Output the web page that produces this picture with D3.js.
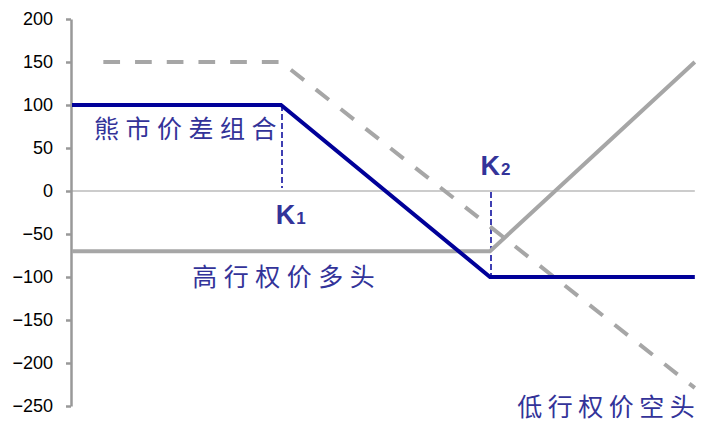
<!DOCTYPE html>
<html>
	<head>
		<meta charset="utf-8">
		<style>
			body, html { margin: 0; padding: 0; background: #fff; }
		</style>
	</head>
	<body>
		<svg id="svg" width="703" height="424"></svg>

		<script src="https://d3js.org/d3.v7.min.js"></script>
		<script>
			// Payoff data (price on x, profit on y)
			const yTicks = [200, 150, 100, 50, 0, -50, -100, -150, -200, -250]
			const strikes = [{ name: 'K', sub: '1', price: 20 }, { name: 'K', sub: '2', price: 40 }]

			const bearPrices = [0, 20, 40, 59.6]
			const bearValues = [100, 100, -100, -100]

			const longHighPrices = [0, 40, 59.6]
			const longHighValues = [-70, -70, 150]

			const shortLowPrices = [3, 20, 59.6]
			const shortLowValues = [150, 150, -229]

			const labels = ['熊市价差组合', '高行权价多头', '低行权价空头']
			const labelPrices = [2.1, 11.5, 42.6]
			const labelValues = [72, -100, -252]

			const svg = d3.select('#svg')

			const x = d3.scaleLinear().domain([0, 60]).range([72, 699])
			const y = d3.scaleLinear().domain([-250, 200]).range([406, 19])

			const line = d3.line()
				.x(d => x(d[0]))
				.y(d => y(d[1]))

			const zip = (a, b) => a.map((v, i) => [v, b[i]])

			// zero line
			svg.append('line')
				.attr('x1', x(0)).attr('x2', x(59.6))
				.attr('y1', y(0)).attr('y2', y(0))
				.attr('stroke', '#999').attr('stroke-width', 1.2)

			// y axis
			const axis = svg.append('g')
				.attr('transform', `translate(${x(0) - 1},0)`)
				.call(d3.axisLeft(y).tickValues(yTicks).tickSize(5).tickPadding(13).tickSizeOuter(0))
			axis.select('.domain').attr('stroke', '#999').attr('stroke-width', 2.5)
			axis.selectAll('.tick line').attr('stroke', '#999').attr('stroke-width', 2.5)
			axis.selectAll('.tick text')
				.attr('font-family', 'Liberation Sans, Arial, sans-serif')
				.attr('font-size', 18)
				.attr('fill', '#000')

			// strike markers
			svg.selectAll('.strike')
				.data(strikes)
				.join('line')
				.attr('x1', d => x(d.price) + 1).attr('x2', d => x(d.price) + 1)
				.attr('y1', (d, i) => i === 0 ? y(100) : y(0) + 1)
				.attr('y2', (d, i) => i === 0 ? y(0) - 3 : y(-100))
				.attr('stroke', '#000099').attr('stroke-width', 1.5)
				.attr('stroke-dasharray', '6,3')

			// short low strike (dashed gray)
			svg.append('path')
				.attr('d', line(zip(shortLowPrices, shortLowValues)))
				.attr('fill', 'none')
				.attr('stroke', '#a6a6a6').attr('stroke-width', 4)
				.attr('stroke-dasharray', '16.7,15')

			// long high strike (solid gray)
			svg.append('path')
				.attr('d', line(zip(longHighPrices, longHighValues)))
				.attr('fill', 'none')
				.attr('stroke', '#a6a6a6').attr('stroke-width', 4)

			// bear spread (navy)
			svg.append('path')
				.attr('d', line(zip(bearPrices, bearValues)))
				.attr('fill', 'none')
				.attr('stroke', '#000099').attr('stroke-width', 4)

			// strike labels
			const kPos = [[19.5, -38.4], [39.1, 18.6]]
			const kText = svg.selectAll('.klabel')
				.data(strikes)
				.join('text')
				.attr('x', (d, i) => x(kPos[i][0]))
				.attr('y', (d, i) => y(kPos[i][1]))
				.attr('font-family', 'Liberation Sans, Arial, sans-serif')
				.attr('font-weight', 'bold')
				.attr('fill', '#333399')
			kText.append('tspan').attr('font-size', 27).text(d => d.name)
			kText.append('tspan').attr('font-size', 17).attr('dx', 1).text(d => d.sub)

			// series labels
			svg.selectAll('.slabel')
				.data(labels)
				.join('text')
				.attr('x', (d, i) => x(labelPrices[i]))
				.attr('y', (d, i) => y(labelValues[i]))
				.attr('dy', '0.35em')
				.attr('font-family', 'Noto Sans CJK SC, sans-serif')
				.attr('font-size', 25)
				.attr('letter-spacing', (d, i) => i === 2 ? 5.5 : 6.5)
				.attr('fill', '#333399')
				.text(d => d)
		</script>
	</body>
</html>
